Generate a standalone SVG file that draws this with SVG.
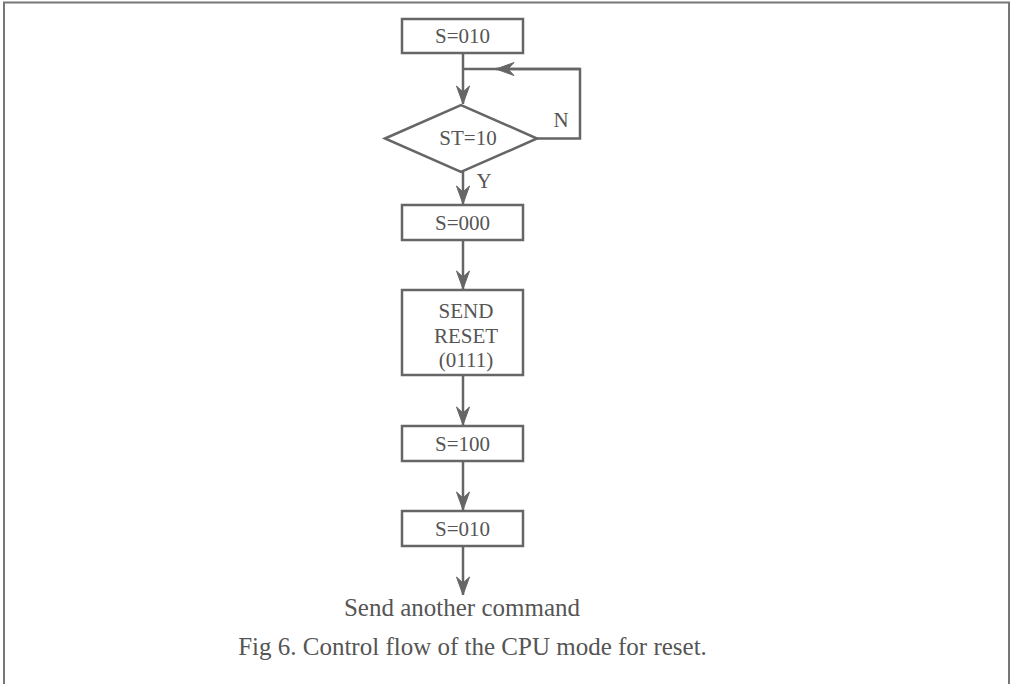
<svg xmlns="http://www.w3.org/2000/svg" width="1015" height="684" viewBox="0 0 1015 684">
<style>
.box{fill:#fff;stroke:#666;stroke-width:2.5}
.ln{fill:none;stroke:#666;stroke-width:2.5}
.t{font-family:"Liberation Serif","Times New Roman",serif;font-size:21px;fill:#555;text-anchor:middle}
.cap{font-family:"Liberation Serif","Times New Roman",serif;font-size:25px;fill:#555;text-anchor:middle}
</style>
<defs>
<marker id="ah" viewBox="-20 -8 22 16" refX="0" refY="0" markerWidth="22" markerHeight="16" markerUnits="userSpaceOnUse" orient="auto">
<path d="M0,0 L-18,-6.5 L-12,0 L-18,6.5 Z" fill="#666" stroke="#666" stroke-width="1"/>
</marker>
</defs>
<rect x="0" y="0" width="1015" height="684" fill="#fff"/>
<path d="M4,684 V2.5 H1009 V684" fill="none" stroke="#777" stroke-width="2"/>
<g id="connectors">
<line class="ln" x1="463" y1="53" x2="463" y2="104" marker-end="url(#ah)"/>
<polyline class="ln" points="537,138.5 580,138.5 580,69 463,69"/>
<line class="ln" x1="580" y1="69" x2="496" y2="69" marker-end="url(#ah)"/>
<line class="ln" x1="463" y1="172" x2="463" y2="204" marker-end="url(#ah)"/>
<line class="ln" x1="463" y1="240" x2="463" y2="289" marker-end="url(#ah)"/>
<line class="ln" x1="463" y1="375" x2="463" y2="425" marker-end="url(#ah)"/>
<line class="ln" x1="463" y1="461" x2="463" y2="510" marker-end="url(#ah)"/>
<line class="ln" x1="463" y1="546" x2="463" y2="595" marker-end="url(#ah)"/>
<text class="t" x="561" y="127">N</text>
<text class="t" x="484" y="188">Y</text>
</g>
<g id="n1"><rect class="box" x="402" y="19" width="121" height="34"/><text class="t" x="462.5" y="43">S=010</text></g>
<g id="n2"><polygon class="box" points="385,138.5 461,105 537,138.5 461,172"/><text class="t" x="468" y="145">ST=10</text></g>
<g id="n3"><rect class="box" x="402" y="205" width="121" height="35"/><text class="t" x="462.5" y="230">S=000</text></g>
<g id="n4"><rect class="box" x="402" y="290" width="121" height="85"/><text class="t" x="466" y="318">SEND</text><text class="t" x="466" y="343">RESET</text><text class="t" x="466" y="367">(0111)</text></g>
<g id="n5"><rect class="box" x="402" y="426" width="121" height="35"/><text class="t" x="462.5" y="451">S=100</text></g>
<g id="n6"><rect class="box" x="402" y="511" width="121" height="35"/><text class="t" x="462.5" y="536">S=010</text></g>
<g id="end"><text class="cap" x="462" y="616">Send another command</text></g>
<text class="cap" x="472.5" y="655">Fig 6. Control flow of the CPU mode for reset.</text>
</svg>
